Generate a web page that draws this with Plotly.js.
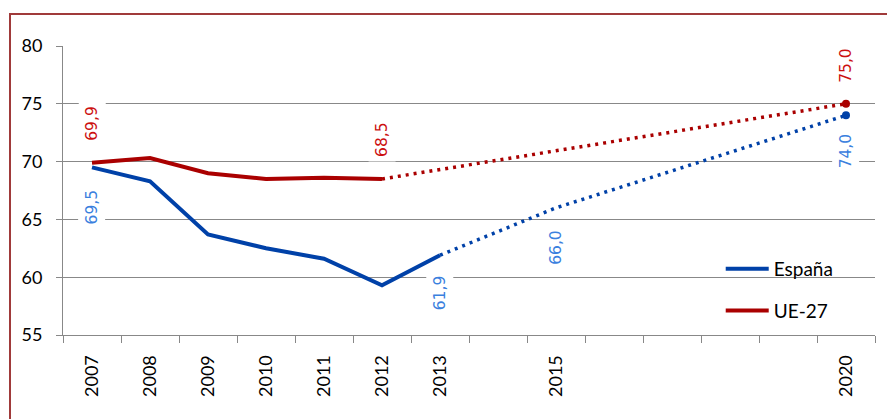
<!DOCTYPE html>
<html>
<head>
<meta charset="utf-8">
<script src="https://cdn.plot.ly/plotly-3.0.1.min.js"></script>
<style>
  html, body { margin: 0; padding: 0; background: #fff; }
  #wrap { position: relative; width: 887px; height: 419px; overflow: hidden; }
  #chart { width: 887px; height: 419px; }
  #frame { position: absolute; left: 9px; top: 13px; width: 900px; height: 430px;
           border-left: 2px solid #A03A3A; border-top: 2px solid #A03A3A; pointer-events: none; }
</style>
</head>
<body>
<div id="wrap">
  <div id="chart"></div>
  <div id="frame"></div>
</div>
<script>
// ---- data ----
const years = [2007, 2008, 2009, 2010, 2011, 2012, 2013, 2014, 2015, 2016, 2017, 2018, 2019, 2020];
const labelYears = [2007, 2008, 2009, 2010, 2011, 2012, 2013, 2015, 2020];

const espanaYears = [2007, 2008, 2009, 2010, 2011, 2012, 2013];
const espanaValues = [69.5, 68.3, 63.7, 62.5, 61.6, 59.3, 61.9];
const espanaTargetYears = [2013, 2015, 2020];
const espanaTargetValues = [61.9, 66.0, 74.0];

const ueYears = [2007, 2008, 2009, 2010, 2011, 2012];
const ueValues = [69.9, 70.3, 69.0, 68.5, 68.6, 68.5];
const ueTargetYears = [2012, 2020];
const ueTargetValues = [68.5, 75.0];

const seriesNames = ['España', 'UE-27'];

const blue = '#0041A8';
const red = '#AA0000';
const blueText = '#3A80DE';
const redText = '#CC1010';

const traces = [
  { x: espanaYears, y: espanaValues, name: seriesNames[0], mode: 'lines',
    line: { color: blue, width: 4 }, legendgroup: 'a' },
  { x: espanaTargetYears, y: espanaTargetValues, mode: 'lines', showlegend: false,
    line: { color: blue, width: 3.5, dash: '3px,5px' } },
  { x: espanaTargetYears.slice(-1), y: espanaTargetValues.slice(-1), mode: 'markers', showlegend: false,
    marker: { color: blue, size: 8 } },
  { x: ueYears, y: ueValues, name: seriesNames[1], mode: 'lines',
    line: { color: red, width: 4 }, legendgroup: 'b' },
  { x: ueTargetYears, y: ueTargetValues, mode: 'lines', showlegend: false,
    line: { color: red, width: 3.5, dash: '3px,5px' } },
  { x: ueTargetYears.slice(-1), y: ueTargetValues.slice(-1), mode: 'markers', showlegend: false,
    marker: { color: red, size: 8 } }
];

function fmt(v) { return v.toFixed(1).replace('.', ','); }
function lab(x, y, color, shift) {
  return { x: x, y: y, xref: 'x', yref: 'y', text: fmt(y), showarrow: false,
    textangle: -90, yshift: shift, bgcolor: '#ffffff', borderpad: 4,
    font: { family: 'DejaVu Sans', size: 15.5, color: color } };
}

const annotations = [
  lab(ueYears[0], ueValues[0], redText, 39),
  lab(espanaYears[0], espanaValues[0], blueText, -40),
  lab(ueYears[5], ueValues[5], redText, 39),
  lab(espanaTargetYears[0], espanaTargetValues[0], blueText, -38),
  lab(espanaTargetYears[1], espanaTargetValues[1], blueText, -40),
  lab(ueTargetYears[1], ueTargetValues[1], redText, 38),
  lab(espanaTargetYears[2], espanaTargetValues[2], blueText, -36)
];

const boundaries = years.map(y => y - 0.5).concat([years[years.length - 1] + 0.5]);

const layout = {
  width: 887, height: 419,
  margin: { l: 63, r: 12, t: 46, b: 84 },
  paper_bgcolor: '#ffffff', plot_bgcolor: '#ffffff',
  font: { family: 'Lato', size: 18, color: '#000' },
  showlegend: true,
  legend: { x: 0.810, xanchor: 'left', y: 0.156, yanchor: 'middle', itemwidth: 43,
    bgcolor: 'rgba(0,0,0,0)', borderwidth: 0, tracegroupgap: 14,
    traceorder: 'grouped', font: { family: 'Lato', size: 19, color: '#000' } },
  xaxis: {
    type: 'linear', range: [2006.5, 2020.5], fixedrange: true,
    tickmode: 'array', tickvals: labelYears, ticktext: labelYears.map(String),
    tickangle: -90, ticks: '', ticklabelstandoff: 12,
    showgrid: false, zeroline: false,
    showline: true, linecolor: '#888888', linewidth: 1,
    tickfont: { family: 'Lato', size: 18, color: '#000' },
    minor: { tickmode: 'array', tickvals: boundaries, ticks: 'outside', ticklen: 7,
      tickcolor: '#888888', tickwidth: 1, showgrid: false }
  },
  yaxis: {
    range: [55, 80], tickmode: 'array', tickvals: [55, 60, 65, 70, 75, 80],
    ticks: 'outside', ticklen: 6, tickcolor: '#888888', ticklabelstandoff: 10,
    showgrid: true, gridcolor: '#888888', gridwidth: 1, zeroline: false,
    showline: true, linecolor: '#888888', linewidth: 1,
    tickfont: { family: 'Lato', size: 18, color: '#000' }
  },
  shapes: [
    { type: 'rect', xref: 'paper', yref: 'y', x0: 0.772, x1: 1, y0: 58.8, y1: 61.4,
      fillcolor: '#ffffff', line: { width: 0 }, layer: 'between' }
  ],
  annotations: annotations
};

Plotly.newPlot('chart', traces, layout, { displayModeBar: false, staticPlot: true });
</script>
</body>
</html>
